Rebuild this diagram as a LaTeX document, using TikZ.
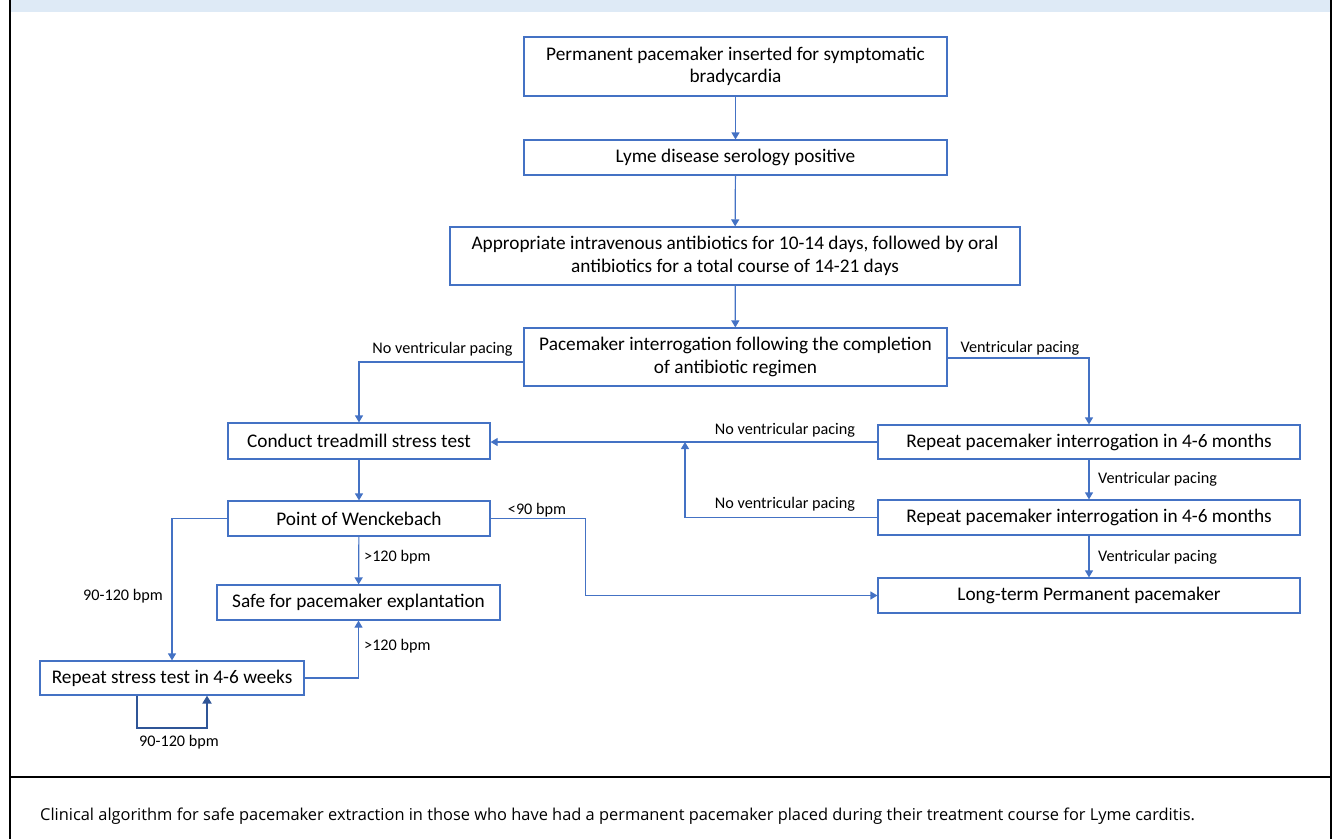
\documentclass[tikz,border=0pt]{standalone}
\usepackage{fontspec}
\setmainfont{Carlito}
\newfontfamily\captionfont{Open Sans}
\usetikzlibrary{arrows.meta}
\definecolor{boxblue}{HTML}{4472C4}
\definecolor{loopblue}{HTML}{2F5597}
\definecolor{bandblue}{HTML}{DEEAF6}
\tikzset{
  box/.style={draw=boxblue, line width=1.2pt, minimum height=35pt, align=center,
    inner sep=0pt, font=\fontsize{19.3}{22.5}\selectfont},
  lbl/.style={inner sep=0pt, font=\fontsize{16.2}{19}\selectfont},
  conn/.style={draw=boxblue, line width=1.2pt, -{Triangle[width=8pt,length=7pt]}},
}
\begin{document}
\begin{tikzpicture}[x=1pt,y=-1pt]
  \useasboundingbox (0,0) rectangle (1335,839);
  % frame and caption
  \fill[bandblue] (10,0) rectangle (1331,12);
  \draw[line width=2pt] (9.5,0) -- (9.5,839);
  \draw[line width=2pt] (1331,0) -- (1331,839);
  \draw[line width=2pt] (9.5,777) -- (1331,777);
  \node[anchor=west, inner sep=0pt, font=\captionfont\fontsize{16.4}{19}\selectfont] (cap) at (40,816)
    {Clinical algorithm for safe pacemaker extraction in those who have had a permanent pacemaker placed during their treatment course for Lyme carditis.};

  % main column
  \node[box, minimum width=423pt, minimum height=59pt] (pm) at (735.5,66.5)
    {Permanent pacemaker inserted for symptomatic\\bradycardia};
  \node[box, minimum width=423pt] (lyme) at (735.5,157.5) {Lyme disease serology positive};
  \node[box, minimum width=570pt, minimum height=58pt] (abx) at (735,256)
    {Appropriate intravenous antibiotics for 10-14 days, followed by oral\\antibiotics for a total course of 14-21 days};
  \node[box, minimum width=423pt, minimum height=58pt] (interr) at (735.5,357)
    {Pacemaker interrogation following the completion\\of antibiotic regimen};

  % left branch
  \node[box, minimum width=262pt, minimum height=36pt] (tread) at (359,441) {Conduct treadmill stress test};
  \node[box, minimum width=262pt] (wenck) at (359,518.5) {Point of Wenckebach};
  \node[box, minimum width=283pt] (safe) at (358.5,602.5) {Safe for pacemaker explantation};
  \node[box, minimum width=264pt, minimum height=34pt] (rst) at (172,678) {Repeat stress test in 4-6 weeks};

  % right branch
  \node[box, minimum width=422pt, minimum height=34pt] (rep1) at (1089,442) {Repeat pacemaker interrogation in 4-6 months};
  \node[box, minimum width=422pt] (rep2) at (1089,517.5) {Repeat pacemaker interrogation in 4-6 months};
  \node[box, minimum width=422pt] (perm) at (1089,595.5) {Long-term Permanent pacemaker};
  \coordinate (join) at (685,442);

  % connectors
  \draw[conn] (pm) -- (lyme);
  \draw[conn] (lyme) -- (abx);
  \draw[conn] (abx) -- (interr);
  \draw[conn] ([yshift=-5pt]interr.west) -| (tread.north);
  \draw[conn] ([yshift=-1pt]interr.east) -| (rep1.north);
  \draw[conn] (rep1.west) -- (rep1.west -| tread.east);
  \draw[conn] (rep2.west) -| (join);
  \draw[conn] (rep1) -- (rep2);
  \draw[conn] (rep2) -- (perm);
  \draw[conn] (tread) -- (wenck);
  \draw[conn] (wenck) -- (safe);
  \draw[conn] (wenck.east) -- ++(95,0) |- (perm.west);
  \draw[conn] (wenck.west) -| (rst.north);
  \draw[conn] (rst.east) -| (safe.south);
  \draw[draw=loopblue, line width=2.2pt, -{Triangle[width=9pt,length=8pt]}]
    ([xshift=-35pt]rst.south) -- ++(0,32) -| ([xshift=35pt]rst.south);

  % labels
  \node[lbl] (l1) at (442.5,349) {No ventricular pacing};
  \node[lbl] (l2) at (1020,348) {Ventricular pacing};
  \node[lbl] (l3) at (785,430) {No ventricular pacing};
  \node[lbl] (l4) at (785,504) {No ventricular pacing};
  \node[lbl, anchor=west] (l5) at (1098,479) {Ventricular pacing};
  \node[lbl, anchor=west] (l6) at (1098,557) {Ventricular pacing};
  \node[lbl] (l7) at (537,510) {<90 bpm};
  \node[lbl, anchor=west] (l8) at (364,557) {>120 bpm};
  \node[lbl, anchor=west] (l9) at (364,646) {>120 bpm};
  \node[lbl] (l10) at (123,596) {90-120 bpm};
  \node[lbl] (l11) at (179,742) {90-120 bpm};
\end{tikzpicture}
\end{document}
